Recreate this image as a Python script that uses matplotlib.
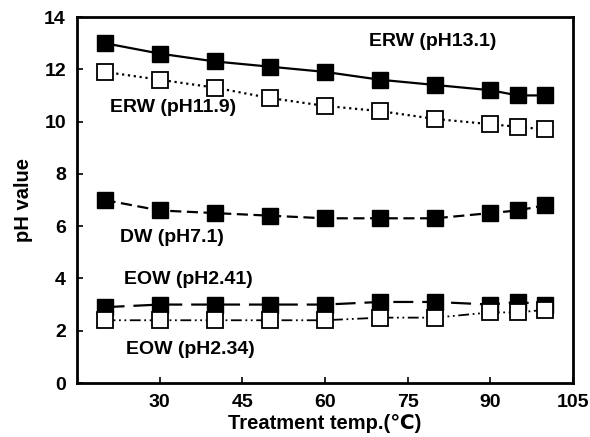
import matplotlib
matplotlib.use("Agg")
import matplotlib.pyplot as plt

temps = [20, 30, 40, 50, 60, 70, 80, 90, 95, 100]
erw131 = [13.0, 12.6, 12.3, 12.1, 11.9, 11.6, 11.4, 11.2, 11.0, 11.0]
erw119 = [11.9, 11.6, 11.3, 10.9, 10.6, 10.4, 10.1, 9.9, 9.8, 9.7]
dw71 = [7.0, 6.6, 6.5, 6.4, 6.3, 6.3, 6.3, 6.5, 6.6, 6.8]
eow241 = [2.9, 3.0, 3.0, 3.0, 3.0, 3.1, 3.1, 3.0, 3.1, 3.0]
eow234 = [2.4, 2.4, 2.4, 2.4, 2.4, 2.5, 2.5, 2.7, 2.7, 2.8]

xticks = [30, 45, 60, 75, 90, 105]
yticks = [0, 2, 4, 6, 8, 10, 12, 14]

plt.rcParams['font.family'] = ['Liberation Sans', 'DejaVu Sans']
plt.rcParams['font.weight'] = 'bold'

fig = plt.figure(figsize=(5.9, 4.37), dpi=100)
ax = fig.add_axes([77/590, 1-383/437, (573-77)/590, (383-17)/437])

ms = 12
ax.plot(temps, erw131, '-', color='black', lw=1.6, marker='s', ms=ms,
        mfc='black', mec='black', zorder=3)
ax.plot(temps, erw119, ':', color='black', lw=1.6, marker='s', ms=ms,
        mfc='white', mec='black', mew=1.3, zorder=3)
ax.plot(temps, dw71, color='black', lw=1.6, dashes=(5, 2.5), marker='s', ms=ms,
        mfc='black', mec='black', zorder=3)
ax.plot(temps, eow241, color='black', lw=1.6, dashes=(9, 4), marker='s', ms=ms,
        mfc='black', mec='black', zorder=3)
ax.plot(temps, eow234, color='black', lw=1.3, dashes=(6, 2, 1, 2, 1, 2), marker='s', ms=ms,
        mfc='white', mec='black', mew=1.3, zorder=4)

fs = 14
ax.text(79.5, 13.07, 'ERW (pH13.1)', ha='center', va='center', fontsize=fs, fontweight='bold')
ax.text(32.5, 10.52, 'ERW (pH11.9)', ha='center', va='center', fontsize=fs, fontweight='bold')
ax.text(32.3, 5.55, 'DW (pH7.1)', ha='center', va='center', fontsize=fs, fontweight='bold')
ax.text(35.2, 3.95, 'EOW (pH2.41)', ha='center', va='center', fontsize=fs, fontweight='bold')
ax.text(35.5, 1.27, 'EOW (pH2.34)', ha='center', va='center', fontsize=fs, fontweight='bold')

ax.set_xlim(15, 105)
ax.set_ylim(0, 14)
ax.set_xticks(xticks)
ax.set_yticks(yticks)
ax.tick_params(direction='in', length=4, width=1.2, labelsize=14, pad=8)
for lab in ax.get_xticklabels() + ax.get_yticklabels():
    lab.set_fontweight('bold')
for s in ax.spines.values():
    s.set_linewidth(2)

ax.set_xlabel('Treatment temp.(℃)', fontsize=14.5, fontweight='bold', labelpad=2)
ax.set_ylabel('pH value', fontsize=14.5, fontweight='bold', labelpad=8)

fig.savefig('out.png', dpi=100)
